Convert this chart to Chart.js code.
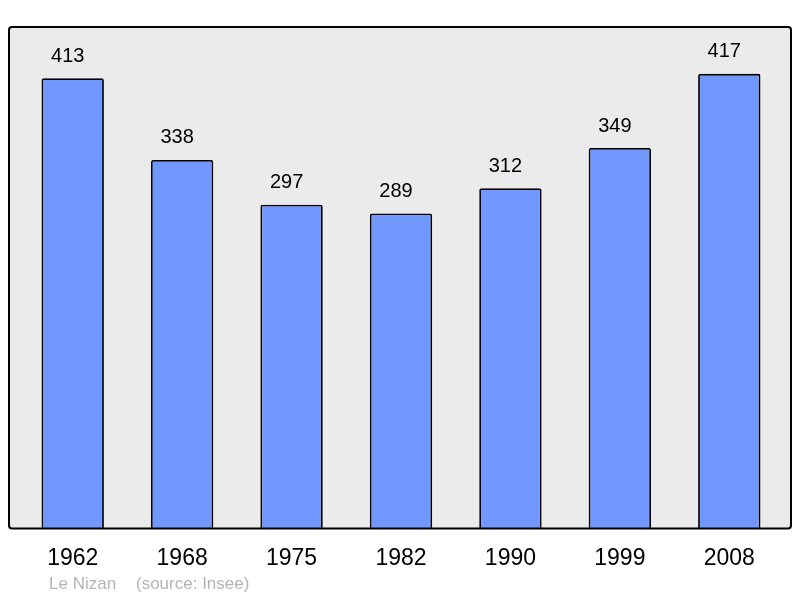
<!DOCTYPE html>
<html>
<head>
<meta charset="utf-8">
<script src="https://cdn.jsdelivr.net/npm/chart.js@4/dist/chart.umd.min.js"></script>
<style>
  html, body { margin: 0; padding: 0; background: #ffffff; }
  #wrap { width: 800px; height: 598px; }
</style>
</head>
<body>
<div id="wrap"><canvas id="c" width="800" height="598"></canvas></div>
<script>
const years = ['1962', '1968', '1975', '1982', '1990', '1999', '2008'];
const population = [413, 338, 297, 289, 312, 349, 417];
const placeName = 'Le Nizan';
const sourceText = '(source: Insee)';
const yMax = 460;

const framePlugin = {
  id: 'frame',
  beforeDatasetsDraw(chart) {
    const { ctx, chartArea: a } = chart;
    ctx.save();
    ctx.beginPath();
    ctx.roundRect(a.left - 9, a.top, (a.right + 7) - (a.left - 9), a.bottom - a.top, 3);
    ctx.fillStyle = '#ebebeb';
    ctx.fill();
    ctx.restore();
  },
  afterDatasetsDraw(chart) {
    const { ctx, chartArea: a } = chart;
    ctx.save();
    ctx.beginPath();
    ctx.roundRect(a.left - 9, a.top, (a.right + 7) - (a.left - 9), a.bottom - a.top, 3);
    ctx.lineWidth = 2;
    ctx.strokeStyle = '#000000';
    ctx.stroke();
    // value labels
    const meta = chart.getDatasetMeta(0);
    ctx.fillStyle = '#000000';
    ctx.font = '20px "Liberation Sans", Arial, sans-serif';
    ctx.textAlign = 'center';
    ctx.textBaseline = 'middle';
    meta.data.forEach((bar, i) => {
      ctx.fillText(String(population[i]), bar.x - 5, bar.y - 22);
    });
    // footer
    ctx.fillStyle = '#b4b4b4';
    ctx.font = '17px "Liberation Sans", Arial, sans-serif';
    ctx.textAlign = 'left';
    ctx.fillText(placeName, 49, 584);
    ctx.fillText(sourceText, 136, 584);
    ctx.restore();
  }
};

new Chart(document.getElementById('c'), {
  type: 'bar',
  data: {
    labels: years,
    datasets: [{
      data: population,
      backgroundColor: '#7098ff',
      borderColor: '#000000',
      borderWidth: 1.8,
      borderRadius: 2,
      borderSkipped: 'bottom',
      categoryPercentage: 1,
      barPercentage: 0.57
    }]
  },
  options: {
    responsive: false,
    animation: false,
    layout: { padding: { left: 18, right: 16, top: 27, bottom: 18 } },
    plugins: { legend: { display: false }, tooltip: { enabled: false } },
    scales: {
      x: {
        grid: { display: false },
        border: { display: false },
        ticks: {
          color: '#000000',
          font: { family: '"Liberation Sans", Arial, sans-serif', size: 23 },
          padding: 8,
          maxRotation: 0
        }
      },
      y: {
        display: false,
        min: 0,
        max: yMax
      }
    }
  },
  plugins: [framePlugin]
});
</script>
</body>
</html>
